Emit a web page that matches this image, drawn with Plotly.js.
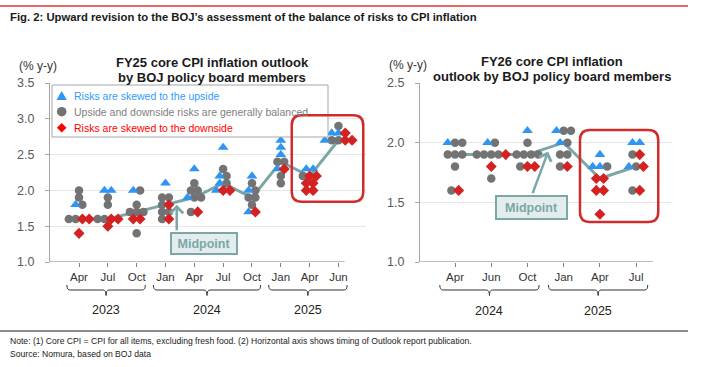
<!DOCTYPE html>
<html><head><meta charset="utf-8">
<script src="https://cdn.plot.ly/plotly-3.0.1.min.js"></script>
<style>html,body{margin:0;padding:0;background:#fff;}#chart{width:701px;height:367px;}</style>
</head><body><div id="chart"></div>
<script>
// ---------------- DATA ----------------
const fy25Months = ['Apr','Jul','Oct','Jan','Apr','Jul','Oct','Jan','Apr','Jun'];
const fy25Years = ['2023','2024','2025'];
const fy25YearStart = [0,3,7];
const fy25YearEnd = [2,6,9];
const fy25Up = [[1.8],[2.0,2.0],[2.0],[2.1],[2.3,1.9],[2.6,2.2,2.1,2.0],[2.2,2.0,1.7],[2.7,2.6,2.5,2.3],[2.3,2.3],[2.8,2.8,2.7]];
const fy25Bal = [[2.0,1.9,1.8,1.6,1.6],[1.9,1.8,1.6,1.6],[2.0,1.8,1.7,1.7,1.7,1.4],[1.9,1.9,1.8,1.7,1.7,1.6],[2.1,2.0,2.0,1.9,1.9,1.7],[2.3,2.2,2.1],[2.1,2.0,1.9,1.9,1.8],[2.4,2.4,2.2,2.1],[2.2],[2.9,2.7,2.7]];
const fy25Down = [[1.6,1.6,1.4],[1.6,1.6,1.5],[1.6,1.6],[1.8,1.6],[1.7],[2.0,2.0],[1.7],[2.3],[2.2,2.2,2.1,2.1,2.0,2.0],[2.8,2.7,2.7]];
const fy25Mid = [1.6,1.6,1.7,1.8,1.9,2.1,1.9,2.4,2.2,2.7];

const fy26Months = ['Apr','Jun','Oct','Jan','Apr','Jul'];
const fy26Years = ['2024','2025'];
const fy26YearStart = [0,3];
const fy26YearEnd = [2,5];
const fy26Up = [[2.0],[2.0],[2.1],[2.1,2.0],[1.9,1.8,1.8],[2.0,2.0,1.8]];
const fy26Bal = [[2.0,2.0,1.9,1.9,1.9,1.8,1.6],[2.0,1.9,1.9,1.9,1.9,1.7],[2.0,1.9,1.9,1.9,1.9,1.8],[2.1,2.1,2.0,1.9,1.9,1.8],[1.8],[1.9,1.8,1.6]];
const fy26Down = [[1.6],[1.9,1.8],[1.8,1.8],[1.8],[1.7,1.7,1.6,1.6,1.4],[1.9,1.8,1.6]];
const fy26Mid = [1.9,1.9,1.9,2.0,1.7,1.8];

const legendLabels = ['Risks are skewed to the upside','Upside and downside risks are generally balanced','Risks are skewed to the downside'];

// ---------------- STYLE / LAYOUT ----------------
const W = 701, H = 367;
const px = x => x / W, py = y => 1 - y / H;
const C = {up:'#2f95f2', bal:'#737373', down:'#d42222', mid:'#7ba7a8', grid:'#e6e6e6', axis:'#a6a6a6'};
const yTop = 83, yBot = 262;
const LX = {dom:[50,366], range:[-1.006,9.955]};
const RX = {dom:[420,672], range:[-0.967,5.99]};

function place(up, bal, down, spacing) {
  const out = {up:{x:[],y:[]}, bal:{x:[],y:[]}, down:{x:[],y:[]}};
  up.forEach((_, i) => {
    const members = [];
    up[i].forEach(v => members.push({k:'up', v}));
    bal[i].forEach(v => members.push({k:'bal', v}));
    down[i].forEach(v => members.push({k:'down', v}));
    const rows = {};
    members.forEach(m => { const key = m.v.toFixed(1); (rows[key] = rows[key] || []).push(m); });
    Object.values(rows).forEach(row => {
      const n = row.length;
      row.forEach((m, j) => { out[m.k].x.push(i + (j - (n - 1) / 2) * spacing); out[m.k].y.push(m.v); });
    });
  });
  return out;
}

function traces(up, bal, down, mid, spacing, xa, ya) {
  const p = place(up, bal, down, spacing);
  return [
    {type:'scatter', mode:'lines', x: mid.map((_, i) => i), y: mid, xaxis:xa, yaxis:ya,
     line:{color:C.mid, width:3}, showlegend:false, hoverinfo:'skip'},
    {type:'scatter', mode:'markers', x:p.bal.x, y:p.bal.y, xaxis:xa, yaxis:ya,
     marker:{symbol:'circle', size:8.5, color:C.bal}, showlegend:false},
    {type:'scatter', mode:'markers', x:p.up.x, y:p.up.y, xaxis:xa, yaxis:ya,
     marker:{symbol:'triangle-up', size:9.5, color:C.up}, showlegend:false},
    {type:'scatter', mode:'markers', x:p.down.x, y:p.down.y, xaxis:xa, yaxis:ya,
     marker:{symbol:'diamond', size:8.5, color:C.down}, showlegend:false}
  ];
}

const data = [
  ...traces(fy25Up, fy25Bal, fy25Down, fy25Mid, 0.236, 'x', 'y'),
  ...traces(fy26Up, fy26Bal, fy26Down, fy26Mid, 0.2, 'x2', 'y2')
];

const FONT = 'Liberation Sans, Arial, sans-serif';
function xaxis(dom, range, labels) {
  return {domain:[px(dom[0]), px(dom[1])], range:range, tickvals:labels.map((_, i) => i), ticktext:labels,
    ticks:'outside', ticklen:4, tickcolor:'#808080', showline:false, showgrid:false, zeroline:false,
    tickfont:{family:FONT, size:11.5, color:'#333'}, fixedrange:true};
}
function yaxis(range, anchor) {
  return {domain:[py(yBot), py(yTop)], range:range, dtick:0.5, tickformat:'.1f', anchor:anchor,
    showline:true, linecolor:C.axis, linewidth:1, gridcolor:C.grid, gridwidth:1, zeroline:false,
    ticks:'outside', ticklen:4, tickcolor:C.axis, ticklabelstandoff:8,
    tickfont:{family:FONT, size:12.5, color:'#595959'}, fixedrange:true};
}

function pxPerUnitX(ax) { return (ax.dom[1] - ax.dom[0]) / (ax.range[1] - ax.range[0]); }
const lppx = pxPerUnitX(LX), rppx = pxPerUnitX(RX);
const lppy = (yBot - yTop) / 2.5, rppy = (yBot - yTop) / 1.5;

function roundRect(x0, x1, y0, y1, rx, ry) {
  return `M${x0+rx},${y1} L${x1-rx},${y1} Q${x1},${y1} ${x1},${y1-ry} L${x1},${y0+ry} Q${x1},${y0} ${x1-rx},${y0} ` +
         `L${x0+rx},${y0} Q${x0},${y0} ${x0},${y0+ry} L${x0},${y1-ry} Q${x0},${y1} ${x0+rx},${y1} Z`;
}
function bracket(x0, x1, rx) {
  const top = py(285), mid = py(290), bot = py(295.5);
  const c = (x0 + x1) / 2;
  return `M${x0},${top} Q${x0},${mid} ${x0+rx},${mid} L${c-rx},${mid} Q${c},${mid} ${c},${bot} ` +
         `Q${c},${mid} ${c+rx},${mid} L${x1-rx},${mid} Q${x1},${mid} ${x1},${top}`;
}

const shapes = [];
const annotations = [];

// top red rule and bottom grey rule
shapes.push({type:'line', xref:'paper', yref:'paper', x0:0, x1:px(688), y0:py(6), y1:py(6), line:{color:'#e03535', width:1.5}});
shapes.push({type:'line', xref:'paper', yref:'paper', x0:0, x1:px(688), y0:py(331), y1:py(331), line:{color:'#8c8c8c', width:2}});

// x-axis lines
shapes.push({type:'line', xref:'x', yref:'y', x0:LX.range[0], x1:9.22, y0:1, y1:1, line:{color:'#808080', width:1}});
shapes.push({type:'line', xref:'x2', yref:'y2', x0:RX.range[0], x1:5.47, y0:1, y1:1, line:{color:'#808080', width:1}});
shapes.push({type:'line', xref:'x', yref:'y', x0:9.22, x1:LX.range[1], y0:1, y1:1, line:{color:'#ffffff', width:1.5}});
shapes.push({type:'line', xref:'x2', yref:'y2', x0:5.47, x1:RX.range[1], y0:1, y1:1, line:{color:'#ffffff', width:1.5}});

// legend box
shapes.push({type:'rect', xref:'paper', yref:'paper', x0:px(52), x1:px(328), y0:py(137), y1:py(85), fillcolor:'#ffffff', line:{color:C.axis, width:1}, layer:'above'});
const lgY = [96, 111.7, 127.7];
const lgX = 61.7;
shapes.push({type:'path', xref:'paper', yref:'paper', path:`M${px(lgX-5.2)},${py(lgY[0]+4)} L${px(lgX+5.2)},${py(lgY[0]+4)} L${px(lgX)},${py(lgY[0]-5)} Z`, fillcolor:C.up, line:{width:0}, layer:'above'});
shapes.push({type:'circle', xref:'paper', yref:'paper', x0:px(lgX-4.8), x1:px(lgX+4.8), y0:py(lgY[1]+4.8), y1:py(lgY[1]-4.8), fillcolor:C.bal, line:{width:0}, layer:'above'});
shapes.push({type:'path', xref:'paper', yref:'paper', path:`M${px(lgX-4.8)},${py(lgY[2])} L${px(lgX)},${py(lgY[2]-4.8)} L${px(lgX+4.8)},${py(lgY[2])} L${px(lgX)},${py(lgY[2]+4.8)} Z`, fillcolor:'#ff0000', line:{width:0}, layer:'above'});
const lgColors = ['#3399ff', '#808080', '#ff0000'];
legendLabels.forEach((t, i) => annotations.push({xref:'paper', yref:'paper', x:px(72), y:py(lgY[i]), xanchor:'left', yanchor:'middle', showarrow:false, text:t, font:{family:FONT, size:10.5, color:lgColors[i]}}));

// red highlight boxes
shapes.push({type:'path', xref:'x', yref:'y', path:roundRect(7.38, 9.86, 1.84, 3.05, 10/lppx, 10/lppy), line:{color:'#d02c2c', width:2.5}, layer:'above'});
shapes.push({type:'path', xref:'x2', yref:'y2', path:roundRect(3.45, 5.61, 1.335, 2.106, 10/rppx, 10/rppy), line:{color:'#d02c2c', width:2.5}, layer:'above'});

// year brackets
fy25Years.forEach((y, i) => {
  const x0 = fy25YearStart[i] - 0.42, x1 = fy25YearEnd[i] + 0.3;
  shapes.push({type:'path', xref:'x', yref:'paper', path:bracket(x0, x1, 3/lppx), line:{color:'#333', width:1}});
  annotations.push({xref:'x', yref:'paper', x:(x0+x1)/2, y:py(310), xanchor:'center', text:y, showarrow:false, yanchor:'middle', font:{family:FONT, size:12.5, color:'#222'}});
});
fy26Years.forEach((y, i) => {
  const x0 = fy26YearStart[i] - 0.42, x1 = fy26YearEnd[i] + 0.32;
  shapes.push({type:'path', xref:'x2', yref:'paper', path:bracket(x0, x1, 3/rppx), line:{color:'#333', width:1}});
  annotations.push({xref:'x2', yref:'paper', x:(x0+x1)/2, y:py(311), xanchor:'center', text:y, showarrow:false, yanchor:'middle', font:{family:FONT, size:12.5, color:'#222'}});
});

// titles
annotations.push({xref:'paper', yref:'paper', x:px(8), y:py(17), xanchor:'left', yanchor:'middle', showarrow:false,
  text:'<b>Fig. 2: Upward revision to the BOJ’s assessment of the balance of risks to CPI inflation</b>', font:{family:FONT, size:11.3, color:'#1a1a1a'}});
const tF = {family:FONT, size:13, color:'#1a1a1a'};
const cA = (x, y, text, font) => annotations.push({xref:'paper', yref:'paper', x:px(x), y:py(y), xanchor:'center', yanchor:'middle', showarrow:false, text, font});
cA(212, 62.5, '<b>FY25 core CPI inflation outlook</b>', tF);
cA(212, 77.5, '<b>by BOJ policy board members</b>', tF);
cA(551.5, 61.5, '<b>FY26 core CPI inflation</b>', tF);
cA(551.5, 76.5, '<b>outlook by BOJ policy board members</b>', tF);
const uF = {family:FONT, size:12, color:'#333'};
cA(37.5, 66, '(% y-y)', uF);
cA(407.5, 65, '(% y-y)', uF);

// midpoint callouts
const mF = {family:FONT, size:12.5, color:C.mid};
annotations.push({xref:'x', yref:'y', x:3.39, y:1.80, ax:0, ay:27, text:'', showarrow:true, arrowhead:4, arrowsize:1, arrowwidth:2.5, arrowcolor:C.mid});
annotations.push({xref:'paper', yref:'paper', x:px(204), y:py(243.5), xanchor:'center', yanchor:'middle', showarrow:false, text:'<b>Midpoint</b>', font:mF,
  bgcolor:'#e3eded', bordercolor:C.mid, borderwidth:2, borderpad:1, width:62, height:17});
annotations.push({xref:'x2', yref:'y2', x:2.57, y:1.925, ax:-16, ay:43, text:'', showarrow:true, arrowhead:4, arrowsize:1, arrowwidth:2.5, arrowcolor:C.mid});
annotations.push({xref:'paper', yref:'paper', x:px(531.5), y:py(207.5), xanchor:'center', yanchor:'middle', showarrow:false, text:'<b>Midpoint</b>', font:mF,
  bgcolor:'#e3eded', bordercolor:C.mid, borderwidth:2, borderpad:1, width:67, height:19});

// notes
const nF = {family:FONT, size:8.6, color:'#1a1a1a'};
annotations.push({xref:'paper', yref:'paper', x:px(8), y:py(341), xanchor:'left', yanchor:'middle', showarrow:false,
  text:'Note: (1) Core CPI = CPI for all items, excluding fresh food. (2) Horizontal axis shows timing of Outlook report publication.', font:nF});
annotations.push({xref:'paper', yref:'paper', x:px(8), y:py(354), xanchor:'left', yanchor:'middle', showarrow:false,
  text:'Source: Nomura, based on BOJ data', font:nF});

const layout = {
  width:W, height:H, margin:{l:0, r:0, t:0, b:0, pad:0},
  paper_bgcolor:'#ffffff', plot_bgcolor:'#ffffff', showlegend:false,
  font:{family:FONT},
  xaxis: xaxis(LX.dom, LX.range, fy25Months),
  yaxis: yaxis([1, 3.5], 'x'),
  xaxis2: xaxis(RX.dom, RX.range, fy26Months),
  yaxis2: yaxis([1, 2.5], 'x2'),
  shapes: shapes,
  annotations: annotations
};

Plotly.newPlot('chart', data, layout, {displayModeBar:false, staticPlot:true});
</script></body></html>
